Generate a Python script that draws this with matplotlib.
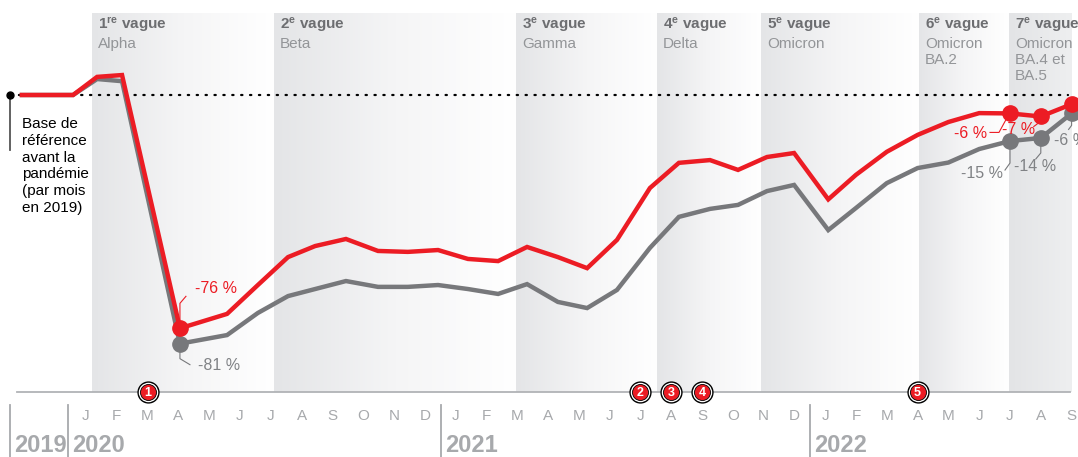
import numpy as np
import matplotlib
matplotlib.use("Agg")
import matplotlib.pyplot as plt
from matplotlib.colors import LinearSegmentedColormap

# ---------------------------------------------------------------------------
# Données (écart en % par rapport au même mois de 2019)
# ---------------------------------------------------------------------------
# position en mois depuis janvier 2020 (0 = janvier 2020)
mois_x = [-2.08, -0.42, 0.36, 1.17, 3.05, 4.58, 5.58, 6.56, 7.44, 8.44, 9.48,
          10.45, 11.43, 12.40, 13.38, 14.32, 15.32, 16.27, 17.24, 18.31, 19.25,
          20.26, 21.17, 22.11, 22.99, 24.1, 25, 26, 27, 28, 29, 30, 31, 32]

serie_rouge = [0, 0, 5.9, 6.5, -76, -71.3, -61.9, -52.8, -49.2, -46.9, -50.8,
               -51.1, -50.5, -53.4, -54.1, -49.5, -52.8, -56.4, -47.2, -30.3, -22.1,
               -21.2, -24.4, -20.2, -18.9, -34, -26, -18.5, -13, -8.8, -5.9, -6, -7, -3]

serie_grise = [0, 0, 5.2, 4.5, -81, -78.2, -71, -65.5, -63.2, -60.6, -62.5,
               -62.5, -61.9, -63.2, -64.8, -61.6, -67.4, -69.4, -63.5, -49.8, -39.7,
               -37.1, -35.8, -31.3, -29.3, -44, -36.8, -28.7, -23.8, -22, -17.6, -15, -14, -6]

# vagues : début (en mois) et libellés
vagues_debut = [0.19, 6.1, 13.96, 18.54, 21.92, 27.05, 29.97]
vagues_fin = 32.0
vagues_titre = ["1$^{\\mathbf{re}}$ vague", "2$^{\\mathbf{e}}$ vague", "3$^{\\mathbf{e}}$ vague",
                "4$^{\\mathbf{e}}$ vague", "5$^{\\mathbf{e}}$ vague", "6$^{\\mathbf{e}}$ vague",
                "7$^{\\mathbf{e}}$ vague"]
vagues_variant = ["Alpha", "Beta", "Gamma", "Delta", "Omicron", "Omicron\nBA.2",
                  "Omicron\nBA.4 et\nBA.5"]

# événements numérotés sur l'axe
evenements_mois = [2, 18, 19, 20, 27]
evenements_num = ["1", "2", "3", "4", "5"]

mois_lettres = list("JFMAMJJASOND") * 2 + list("JFMAMJJAS")
annees = ["2019", "2020", "2021", "2022"]

# points étiquetés : (indice, texte)
etiq_rouge = [(4, "-76 %"), (31, "-6 %"), (32, "-7 %"), (33, "-3 %")]
etiq_grise = [(4, "-81 %"), (31, "-15 %"), (32, "-14 %"), (33, "-6 %")]

# ---------------------------------------------------------------------------
ROUGE = "#ec1c24"
GRIS = "#77787b"
GRIS_TXT = "#808285"
GRIS_AXE = "#a7a9ac"

plt.rcParams["font.family"] = ["Liberation Sans", "DejaVu Sans"]
plt.rcParams["mathtext.fontset"] = "custom"
plt.rcParams["mathtext.bf"] = "Liberation Sans:bold"
plt.rcParams["mathtext.rm"] = "Liberation Sans"
plt.rcParams["mathtext.it"] = "Liberation Sans:italic"

W, H = 1078, 457
fig = plt.figure(figsize=(W / 100, H / 100), dpi=100)
ax = fig.add_axes([0, 0, 1, 1])

# pixel -> données
X0, DX = 86, 30.8
Y0, DY = 95, 3.07


def px(x):
    return (x - X0) / DX


def py(y):
    return (Y0 - y) / DY


ax.set_xlim(px(0), px(W))
ax.set_ylim(py(H), py(0))
ax.axis("off")

# --- bandes des vagues (dégradé) ---
grad = np.linspace(0, 1, 256)[None, :]
cmap = LinearSegmentedColormap.from_list("bande", ["#e4e5e7", "#f5f5f6", "#ffffff"])
cmap7 = LinearSegmentedColormap.from_list("bande7", ["#e3e4e6", "#eeeff0"])
bornes = vagues_debut + [vagues_fin]
for i in range(len(vagues_debut)):
    cm = cmap7 if i == len(vagues_debut) - 1 else cmap
    ax.imshow(grad, cmap=cm, aspect="auto", interpolation="bicubic",
              extent=(bornes[i], bornes[i + 1], py(392), py(14)), zorder=0)
    xt = bornes[i] + 6 / DX
    ax.text(xt, py(25), vagues_titre[i], fontsize=11, fontweight="bold",
            color="#6d6e71", ha="left", va="center", zorder=3)
    ax.text(xt, py(37), vagues_variant[i], fontsize=11, color="#939598",
            ha="left", va="top", linespacing=1.2, zorder=3)

# --- ligne de base 2019 ---
ax.plot([px(10), px(1068)], [0, 0], color="black", lw=1.6,
        linestyle=(0, (0.6, 3.4)), dash_capstyle="round", zorder=2)
ax.plot([px(10), px(10)], [0, py(150)], color="#555555", lw=1.3, zorder=2)
ax.plot([px(10)], [0], "o", color="black", markersize=5, zorder=3)
ax.text(px(22), py(117), "Base de\nréférence\navant la\npandémie\n(par mois\nen 2019)",
        fontsize=11, color="black", ha="left", va="top", linespacing=1.25, zorder=3)

# --- séries ---
ax.plot(mois_x, serie_grise, color=GRIS, lw=3.2, solid_joinstyle="miter", zorder=4)
ax.plot(mois_x, serie_rouge, color=ROUGE, lw=3.2, solid_joinstyle="miter", zorder=5)


# marqueurs + étiquettes
def leader(i, serie, pts, color):
    x0, y0 = mois_x[i], serie[i]
    xs = [x0 + dx / DX for dx, dy in pts]
    ys = [y0 - dy / DY for dx, dy in pts]
    ax.plot(xs, ys, color=color, lw=0.8, zorder=3)


rouge_leaders = {
    4: ([(0, 0), (0, -25), (6, -32)], (15, -40), "left"),
    31: ([(0, 0), (-5, 8), (-11, 19), (-20, 19)], (-23, 20), "right"),
    32: ([(0, 0), (-3, 7), (-7, 10)], (-6, 13), "right"),
    33: ([(0, 0), (0, 10), (4, 14)], (7, 22), "left"),
}
grise_leaders = {
    4: ([(0, 0), (0, 15), (10, 21)], (18, 22), "left"),
    31: ([(0, 0), (0, 22), (-5, 29)], (-7, 32), "right"),
    32: ([(0, 0), (0, 15), (-5, 21)], (-6, 29), "center"),
    33: ([(0, 0), (0, 12), (-3, 16)], (-18, 27), "left"),
}

for (i, txt) in etiq_rouge:
    pts, (tx, ty), ha = rouge_leaders[i]
    leader(i, serie_rouge, pts, ROUGE)
    ax.plot(mois_x[i], serie_rouge[i], "o", color=ROUGE, markersize=11, zorder=7)
    ax.text(mois_x[i] + tx / DX, serie_rouge[i] - ty / DY, txt, color=ROUGE,
            fontsize=11.5, ha=ha, va="center", zorder=8)

for (i, txt) in etiq_grise:
    pts, (tx, ty), ha = grise_leaders[i]
    leader(i, serie_grise, pts, GRIS)
    ax.plot(mois_x[i], serie_grise[i], "o", color=GRIS, markersize=11, zorder=6)
    ax.text(mois_x[i] + tx / DX, serie_grise[i] - ty / DY, txt, color=GRIS_TXT,
            fontsize=11.5, ha=ha, va="center", zorder=8)

# --- axe du temps ---
ax.plot([px(17), px(1070)], [py(392), py(392)], color="#b1b3b6", lw=1.3, zorder=2)
for m, n in zip(evenements_mois, evenements_num):
    ax.plot(m, py(392), "o", color="black", markersize=15, zorder=9)
    ax.plot(m, py(392), "o", color="white", markersize=13, zorder=9)
    ax.plot(m, py(392), "o", color=ROUGE, markersize=11.5, markeredgecolor="black",
            markeredgewidth=0.6, zorder=9)
    ax.text(m, py(392.5), n, color="white", fontsize=9, fontweight="bold",
            ha="center", va="center", zorder=10)

for m, lettre in enumerate(mois_lettres):
    ax.text(m, py(416), lettre, color=GRIS_AXE, fontsize=11, ha="center",
            va="center", zorder=3)

for xs, annee in zip([10, 68, 441, 810], annees):
    ax.plot([px(xs), px(xs)], [py(405), py(H)], color=GRIS_AXE, lw=1.3, zorder=2)
    ax.text(px(xs + 4), py(434), annee, color=GRIS_AXE, fontsize=17,
            fontweight="bold", ha="left", va="top", zorder=3)

fig.savefig("out.png", dpi=100)
